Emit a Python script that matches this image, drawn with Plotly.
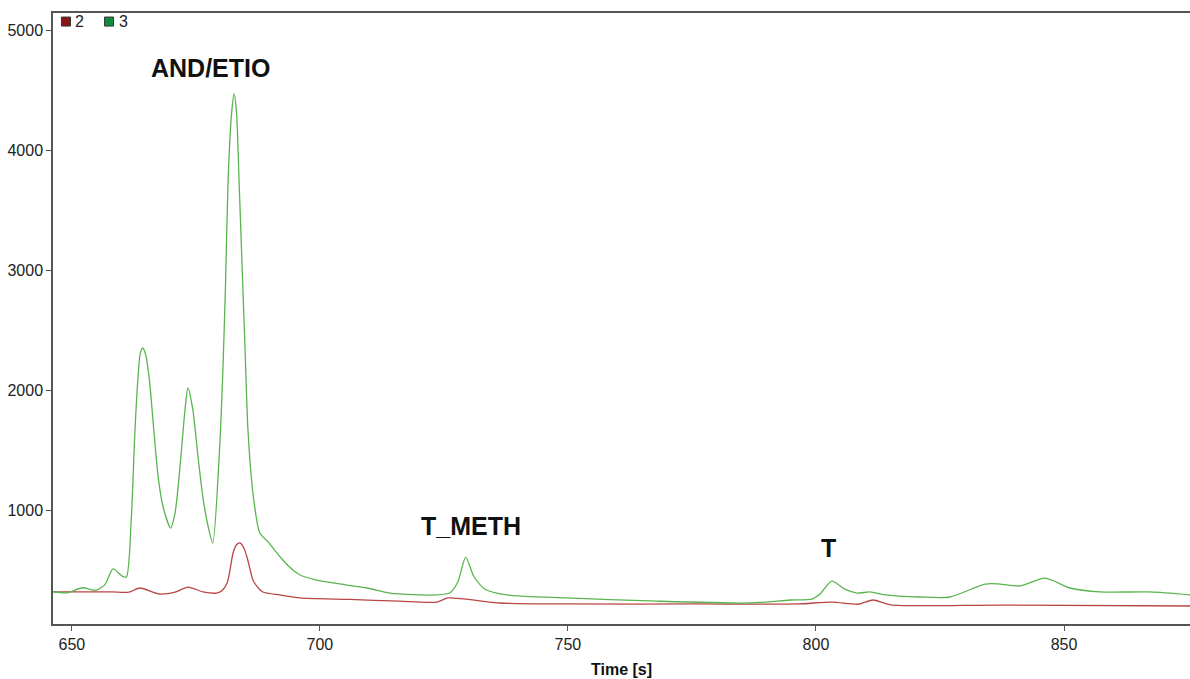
import plotly.graph_objects as go

# Green trace (series "3")
t3 = [646.2, 649.0, 652.2, 654.8, 656.7, 658.3, 660.3, 661.0, 662.0, 662.7, 663.4, 663.8, 664.3,
      664.9, 665.7, 666.4, 667.4, 668.4, 669.9, 670.8, 671.8, 672.8, 673.4, 674.4, 675.5, 676.5,
      677.5, 678.4, 679.8, 680.5, 681.0, 681.5, 682.2, 682.7, 683.2, 683.7, 684.3, 684.9, 685.5,
      686.6, 687.9, 689.6, 691.0, 692.4, 694.0, 696.0, 699.0, 702.6, 709.5, 714.1, 723.6, 726.2,
      727.8, 729.4, 731.0, 733.3, 737.7, 749.8, 766.5, 786.7, 794.8, 799.2, 800.8, 803.2, 805.8,
      808.3, 810.9, 813.9, 821.0, 827.0, 834.1, 837.1, 841.1, 846.2, 851.2, 857.3, 867.3, 875.4]
v3 = [319, 310, 352, 330, 380, 510, 445, 442, 942, 1642, 2142, 2308, 2350,
      2292, 2058, 1725, 1275, 1025, 850, 975, 1358, 1833, 2017, 1833, 1417, 1083,
      858, 725, 1525, 2225, 2917, 3750, 4308, 4467, 4308, 3750, 3058, 2358, 1667,
      1108, 808, 733, 660, 590, 520, 458, 420, 392, 350, 308, 292, 310,
      400, 608, 450, 340, 292, 267, 242, 225, 250, 258, 300, 408, 340,
      308, 317, 292, 275, 275, 383, 383, 367, 433, 350, 317, 317, 292]

# Red trace (series "2")
t2 = [646.2, 658.0, 661.5, 663.7, 667.7, 671.0, 673.4, 676.4, 679.2, 680.3, 681.3, 681.8, 682.5,
      683.2, 683.9, 684.6, 685.3, 685.9, 686.5, 687.4, 688.5, 691.9, 696.0, 706.0, 716.0, 723.6,
      725.8, 736.3, 749.8, 776.0, 796.2, 803.2, 808.5, 811.5, 815.0, 837.1, 875.4]
v2 = [317, 317, 315, 350, 300, 318, 358, 318, 308, 330, 392, 480, 642,
      710, 725, 690, 608, 510, 417, 360, 317, 292, 267, 255, 240, 233,
      267, 225, 217, 217, 217, 233, 215, 250, 210, 208, 200]

labels = ["AND/ETIO", "T_METH", "T"]
label_x = [678.0, 730.5, 802.5]
label_y = [4683, 867, 683]

series_names = ["2", "3"]
series_colors = ["#8B1414", "#148A40"]
legend_sq_x = [0.0114, 0.0493]
legend_txt_x = [0.0176, 0.0563]

fig = go.Figure()
fig.add_trace(go.Scatter(x=t2, y=v2, mode="lines", name="2",
                         line=dict(color="rgb(185,70,70)", width=1.3, shape="spline", smoothing=0.7),
                         showlegend=False))
fig.add_trace(go.Scatter(x=t3, y=v3, mode="lines", name="3",
                         line=dict(color="rgb(90,180,80)", width=1.3, shape="spline", smoothing=0.7),
                         showlegend=False))

# Legend (manual, to match the compact square + label layout)
for nm, col, sx, tx in zip(series_names, series_colors, legend_sq_x, legend_txt_x):
    fig.add_shape(type="rect", xref="paper", yref="paper", xsizemode="pixel", ysizemode="pixel",
                  xanchor=sx, yanchor=0.986, x0=-4.5, x1=4.5, y0=-4.5, y1=4.5,
                  fillcolor=col, line=dict(color="#333", width=1))
    fig.add_annotation(xref="paper", yref="paper", x=tx, y=0.986, xanchor="left", yanchor="middle",
                       text=nm, showarrow=False, font=dict(size=16, color="#222"))

for lab, lx, ly in zip(labels, label_x, label_y):
    fig.add_annotation(x=lx, y=ly, text="<b>%s</b>" % lab, showarrow=False,
                       font=dict(family="Liberation Sans, Arial", size=25, color="#111"))

fig.update_layout(
    width=1190, height=679,
    margin=dict(l=53, r=0, t=13, b=55),
    paper_bgcolor="white", plot_bgcolor="white",
    font=dict(family="Liberation Sans, Arial", size=16, color="#222"),
    showlegend=False,
    xaxis=dict(range=[646.2, 875.4], tickvals=[650, 700, 750, 800, 850], showgrid=False, zeroline=False,
               showline=True, linecolor="#555", linewidth=1.5, mirror=True,
               ticks="outside", ticklen=5, tickcolor="#555",
               title=dict(text="<b>Time [s]</b>", font=dict(size=16, color="#111"), standoff=12)),
    yaxis=dict(range=[50, 5142], tickvals=[1000, 2000, 3000, 4000, 5000], showgrid=False, zeroline=False,
               showline=True, linecolor="#555", linewidth=1.5,
               ticks="outside", ticklen=5, tickcolor="#555"),
)

fig.write_html("out.html", config={"displayModeBar": False},
               post_script="document.body.style.margin='0';document.body.style.overflow='hidden';")
